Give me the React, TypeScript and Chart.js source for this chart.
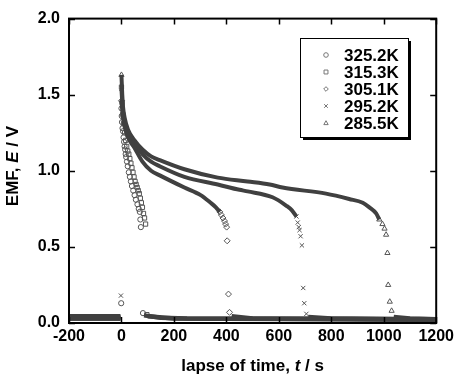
import React, { useEffect, useRef } from "react";
import { Chart, registerables } from "chart.js";

Chart.register(...registerables);

const seriesLabels = ["325.2K", "315.3K", "305.1K", "295.2K", "285.5K"];
const pointStyles = ["circle", "rect", "rectRot", "crossRot", "triangle"];

const xTicks = [-200, 0, 200, 400, 600, 800, 1000, 1200];
const yTicks = [0, 0.5, 1.0, 1.5, 2.0];

// 325.2K (circles)
const mT325 = [-1, 0, 1, 2, 4, 6, 8, 10, 12, 14, 16, 18, 21, 24, 28, 32, 36, 40, 45, 50, 55, 61, 66, 70, 72, 74, 82];
const mE325 = [0.13, 1.41, 1.36, 1.32, 1.28, 1.26, 1.22, 1.19, 1.16, 1.14, 1.11, 1.09, 1.06, 1.03, 0.99, 0.96, 0.93, 0.9, 0.87, 0.84, 0.81, 0.78, 0.75, 0.73, 0.68, 0.63, 0.065];
const cT325: number[] = [];
const cE325: number[] = [];
const bT325 = [-200, -4, 0, 86, 150, 250, 1200];
const bE325 = [0.045, 0.045, null, 0.05, 0.035, 0.03, 0.025];

// 315.3K (squares)
const mT315 = [0, 2, 5, 8, 12, 16, 20, 24, 28, 32, 36, 40, 44, 48, 52, 56, 60, 64, 68, 72, 76, 80, 84, 88, 92, 97];
const mE315 = [1.55, 1.45, 1.37, 1.31, 1.25, 1.2, 1.16, 1.13, 1.11, 1.08, 1.05, 1.02, 0.99, 0.96, 0.93, 0.91, 0.89, 0.87, 0.85, 0.82, 0.79, 0.76, 0.72, 0.69, 0.65, 0.055];
const cT315: number[] = [];
const cE315: number[] = [];
const bT315 = [-200, -4, 0, 100, 200, 1200];
const bE315 = [0.04, 0.04, null, 0.045, 0.03, 0.022];

// 305.1K (diamonds)
const mT305 = [0, 375, 381, 387, 393, 397, 401, 403, 408, 412];
const mE305 = [1.46, 0.73, 0.71, 0.69, 0.67, 0.65, 0.63, 0.54, 0.19, 0.07];
const cT305 = [0, 3, 6, 12, 25, 50, 80, 113, 146, 240, 302, 340, 360, 375];
const cE305 = [1.46, 1.4, 1.35, 1.29, 1.22, 1.15, 1.06, 1.0, 0.97, 0.89, 0.84, 0.79, 0.76, 0.73];
const bT305 = [-200, -4, 0, 420, 500, 1200];
const bE305 = [0.035, 0.035, null, 0.045, 0.03, 0.025];

// 295.2K (crosses)
const mT295 = [-2, 0, 667, 672, 676, 679, 683, 688, 693, 697, 705];
const mE295 = [0.18, 1.54, 0.7, 0.66, 0.63, 0.61, 0.57, 0.51, 0.23, 0.13, 0.06];
const cT295 = [0, 3, 6, 12, 25, 50, 80, 113, 146, 240, 367, 450, 481, 576, 629, 650, 667];
const cE295 = [1.54, 1.45, 1.39, 1.32, 1.25, 1.18, 1.11, 1.06, 1.03, 0.96, 0.91, 0.875, 0.865, 0.826, 0.77, 0.74, 0.7];
const bT295 = [-200, -4, 0, 712, 800, 1200];
const bE295 = [0.03, 0.03, null, 0.04, 0.03, 0.022];

// 285.5K (triangles)
const mT285 = [0, 983, 995, 1003, 1009, 1014, 1017, 1023, 1030];
const mE285 = [1.63, 0.68, 0.65, 0.62, 0.58, 0.46, 0.25, 0.14, 0.08];
const cT285 = [0, 3, 6, 12, 25, 50, 80, 113, 146, 240, 367, 481, 565, 614, 780, 868, 920, 945, 971, 983];
const cE285 = [1.63, 1.5, 1.42, 1.35, 1.27, 1.2, 1.14, 1.095, 1.07, 1.01, 0.955, 0.93, 0.91, 0.89, 0.85, 0.815, 0.79, 0.76, 0.72, 0.68];
const bT285 = [-200, -4, 0, 1038, 1100, 1200];
const bE285 = [0.03, 0.03, null, 0.04, 0.03, 0.025];

const markerT = [mT325, mT315, mT305, mT295, mT285];
const markerE = [mE325, mE315, mE305, mE295, mE285];
const curveT = [cT325, cT315, cT305, cT295, cT285];
const curveE = [cE325, cE315, cE305, cE295, cE285];
const baseT = [bT325, bT315, bT305, bT295, bT285];
const baseE = [bE325, bE315, bE305, bE295, bE285];

const FONT = "'Liberation Sans', Arial, Helvetica, sans-serif";
const MARK = "#555555";
const LINE = "#404040";

const zip = (t: number[], e: (number | null)[]) => t.map((x, i) => ({ x, y: e[i] }));

function drawMarker(ctx: CanvasRenderingContext2D, style: string, x: number, y: number, r: number) {
  ctx.beginPath();
  if (style === "circle") {
    ctx.arc(x, y, r, 0, Math.PI * 2);
  } else if (style === "rect") {
    const s = r * 0.85;
    ctx.rect(x - s, y - s, 2 * s, 2 * s);
  } else if (style === "rectRot") {
    ctx.moveTo(x, y - r);
    ctx.lineTo(x + r, y);
    ctx.lineTo(x, y + r);
    ctx.lineTo(x - r, y);
    ctx.closePath();
  } else if (style === "crossRot") {
    const s = r * 0.8;
    ctx.moveTo(x - s, y - s);
    ctx.lineTo(x + s, y + s);
    ctx.moveTo(x + s, y - s);
    ctx.lineTo(x - s, y + s);
  } else {
    ctx.moveTo(x, y - r);
    ctx.lineTo(x + r * 0.95, y + r * 0.7);
    ctx.lineTo(x - r * 0.95, y + r * 0.7);
    ctx.closePath();
  }
  ctx.stroke();
}

const framePlugin = {
  id: "framePlugin",
  afterDraw(chart: any) {
    const ctx = chart.ctx as CanvasRenderingContext2D;
    const { left, right, top, bottom } = chart.chartArea;
    const xs = chart.scales.x;
    const ys = chart.scales.y;
    ctx.save();
    ctx.strokeStyle = "#000";
    ctx.lineWidth = 2;
    ctx.strokeRect(left, top, right - left, bottom - top);
    ctx.lineWidth = 1.5;
    const tl = 6;
    ctx.beginPath();
    xTicks.forEach((v) => {
      const px = Math.round(xs.getPixelForValue(v)) + 0.5;
      ctx.moveTo(px, bottom);
      ctx.lineTo(px, bottom - tl);
      ctx.moveTo(px, top);
      ctx.lineTo(px, top + tl);
    });
    yTicks.forEach((v) => {
      const py = Math.round(ys.getPixelForValue(v)) + 0.5;
      ctx.moveTo(left, py);
      ctx.lineTo(left + tl, py);
      ctx.moveTo(right, py);
      ctx.lineTo(right - tl, py);
    });
    ctx.stroke();

    // axis titles with italic symbols
    const drawMixed = (parts: [string, boolean][], size: number) => {
      let total = 0;
      parts.forEach(([s, it]) => {
        ctx.font = `${it ? "italic " : ""}bold ${size}px ${FONT}`;
        total += ctx.measureText(s).width;
      });
      let cx = -total / 2;
      parts.forEach(([s, it]) => {
        ctx.font = `${it ? "italic " : ""}bold ${size}px ${FONT}`;
        ctx.fillText(s, cx, 0);
        cx += ctx.measureText(s).width;
      });
    };
    ctx.fillStyle = "#000";
    ctx.textBaseline = "middle";
    ctx.textAlign = "left";
    ctx.save();
    ctx.translate((left + right) / 2, 366);
    drawMixed([["lapse of time, ", false], ["t", true], [" / s", false]], 17);
    ctx.restore();
    ctx.save();
    ctx.translate(13, 166);
    ctx.rotate(-Math.PI / 2);
    drawMixed([["EMF, ", false], ["E", true], [" / V", false]], 17);
    ctx.restore();

    // legend
    const bx = 300, by = 38, bw = 108, bh = 99;
    ctx.fillStyle = "#000";
    ctx.fillRect(bx + 3, by + 3, bw, bh);
    ctx.fillStyle = "#fff";
    ctx.fillRect(bx, by, bw, bh);
    ctx.strokeStyle = "#000";
    ctx.lineWidth = 1;
    ctx.strokeRect(bx + 0.5, by + 0.5, bw, bh);
    seriesLabels.forEach((lab, i) => {
      const y = 55 + i * 17;
      ctx.strokeStyle = "#777";
      ctx.lineWidth = 1;
      drawMarker(ctx, pointStyles[i], 326, y, 2.3);
      ctx.fillStyle = "#000";
      ctx.font = `bold 17px ${FONT}`;
      ctx.textAlign = "left";
      ctx.textBaseline = "middle";
      ctx.fillText(lab, 344, y + 1);
    });
    ctx.restore();
  },
};

export default function App() {
  const ref = useRef<HTMLCanvasElement | null>(null);
  useEffect(() => {
    if (!ref.current) return;
    const datasets: any[] = [];
    // baselines
    seriesLabels.forEach((lab, i) => {
      datasets.push({
        label: lab + " base",
        data: zip(baseT[i], baseE[i]),
        showLine: true,
        spanGaps: false,
        borderColor: LINE,
        borderWidth: 4.5,
        pointRadius: 0,
        fill: false,
      });
    });
    // dense curves
    seriesLabels.forEach((lab, i) => {
      if (curveT[i].length === 0) return;
      datasets.push({
        label: lab + " curve",
        data: zip(curveT[i], curveE[i]),
        showLine: true,
        borderColor: LINE,
        borderWidth: 4,
        pointRadius: 0,
        cubicInterpolationMode: "monotone",
        fill: false,
      });
    });
    // markers
    seriesLabels.forEach((lab, i) => {
      datasets.push({
        label: lab,
        data: zip(markerT[i], markerE[i]),
        showLine: false,
        pointStyle: pointStyles[i],
        pointRadius: pointStyles[i] === "circle" ? 2.6 : 3,
        pointBorderColor: MARK,
        pointBackgroundColor: "rgba(255,255,255,0)",
        pointBorderWidth: 1,
      });
    });

    const chart = new Chart(ref.current, {
      type: "scatter",
      data: { datasets },
      options: {
        responsive: false,
        animation: false,
        layout: { padding: { left: 0, right: 21, top: 13, bottom: 0 } },
        plugins: { legend: { display: false }, tooltip: { enabled: false } },
        scales: {
          x: {
            type: "linear",
            min: -200,
            max: 1200,
            afterBuildTicks: (s: any) => {
              s.ticks = xTicks.map((v) => ({ value: v }));
            },
            afterFit: (s: any) => {
              s.height = 55;
            },
            grid: { display: false, drawTicks: false },
            border: { display: false },
            ticks: {
              color: "#000",
              padding: 4,
              maxRotation: 0,
              autoSkip: false,
              font: { family: FONT, size: 16, weight: "bold" },
              callback: (v: any) => String(v),
            },
          },
          y: {
            type: "linear",
            min: 0,
            max: 2,
            afterBuildTicks: (s: any) => {
              s.ticks = yTicks.map((v) => ({ value: v }));
            },
            afterFit: (s: any) => {
              s.width = 69;
            },
            grid: { display: false, drawTicks: false },
            border: { display: false },
            ticks: {
              color: "#000",
              padding: 9,
              autoSkip: false,
              font: { family: FONT, size: 16, weight: "bold" },
              callback: (v: any) => Number(v).toFixed(1),
            },
          },
        },
      },
      plugins: [framePlugin],
    });
    return () => chart.destroy();
  }, []);

  return (
    <div style={{ position: "absolute", left: 0, top: 0, width: 458, height: 378, background: "#fff" }}>
      <canvas ref={ref} width={458} height={378} style={{ width: 458, height: 378 }} />
    </div>
  );
}
